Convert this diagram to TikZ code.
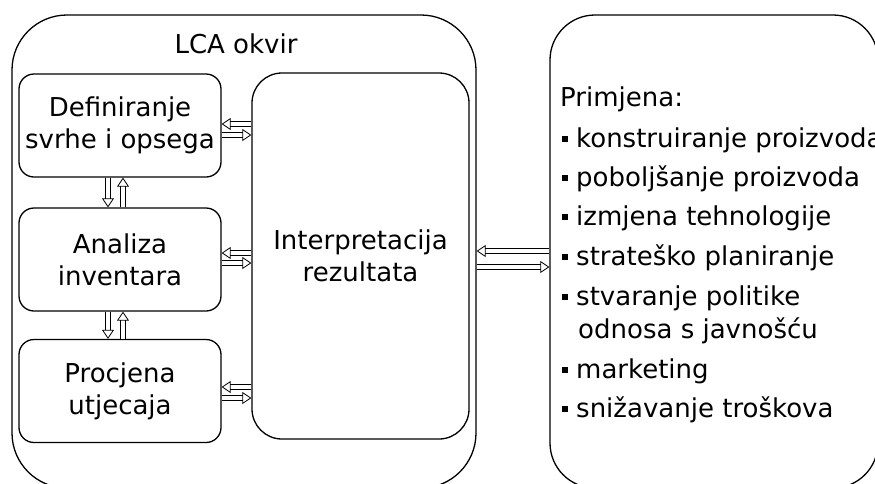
\documentclass[tikz,border=0pt]{standalone}
\usepackage{fontspec}
\setmainfont{DejaVu Sans}
\usetikzlibrary{arrows.meta}
\newcommand{\bul}{\rule[5pt]{6pt}{6pt}\hspace{8pt}}
\begin{document}
\begin{tikzpicture}[x=1pt,y=-1pt,
  txt/.style={font=\fontsize{26}{32}\selectfont},
  frame/.style={draw, line width=1.3pt, inner sep=0pt},
  stepbox/.style={frame, rounded corners=15pt, minimum width=202pt, minimum height=103pt, txt, align=center},
  dar/.style={double, double distance=3.5pt, line width=0.8pt,
    -{Triangle[open, length=9pt, width=12pt, line width=0.8pt]}},
  item/.style={txt, anchor=base west, inner sep=0pt}]
\useasboundingbox (0,0) rectangle (875,483);
% outer frames
\node[frame, rounded corners=55pt, minimum width=464pt, minimum height=473pt] (lca) at (244,251.5) {};
\node[frame, rounded corners=45pt, minimum width=328pt, minimum height=473pt] (app) at (714,251.5) {};
\node[txt, anchor=base, inner sep=0pt] (lcat) at (236,53) {LCA okvir};
% inner boxes
\node[stepbox] (def) at (120,125.5) {Definiranje\\svrhe i opsega};
\node[stepbox] (ana) at (120,259.5) {Analiza\\inventara};
\node[stepbox] (pro) at (120,391) {Procjena\\utjecaja};
\node[frame, rounded corners=30pt, minimum width=217pt, minimum height=366pt, txt, align=center] (int) at (360.5,256) {Interpretacija\\rezultata};
% vertical arrows
\draw[dar] ([xshift=-12pt]def.south) -- ([xshift=-12pt]ana.north);
\draw[dar] ([xshift=3pt]ana.north) -- ([xshift=3pt]def.south);
\draw[dar] ([xshift=-12pt]ana.south) -- ([xshift=-12pt]pro.north);
\draw[dar] ([xshift=3pt]pro.north) -- ([xshift=3pt]ana.south);
% horizontal arrows
\draw[dar] ([yshift=1.5pt]int.west |- def.east) -- ([yshift=1.5pt]def.east);
\draw[dar] ([yshift=-9.5pt]def.east) -- ([yshift=-9.5pt]int.west |- def.east);
\draw[dar] ([yshift=6.5pt]int.west |- ana.east) -- ([yshift=6.5pt]ana.east);
\draw[dar] ([yshift=-3.5pt]ana.east) -- ([yshift=-3.5pt]int.west |- ana.east);
\draw[dar] ([yshift=4pt]int.west |- pro.east) -- ([yshift=4pt]pro.east);
\draw[dar] ([yshift=-7pt]pro.east) -- ([yshift=-7pt]int.west |- pro.east);
\draw[dar] ([yshift=0.5pt]app.west) -- ([yshift=0.5pt]lca.east);
\draw[dar] ([yshift=-15.5pt]lca.east) -- ([yshift=-15.5pt]app.west);
% application list
\node[item] (p0) at (560,106) {Primjena:};
\node[item] (p1) at (562,147) {\bul konstruiranje proizvoda};
\node[item] (p2) at (562,186) {\bul poboljšanje proizvoda};
\node[item] (p3) at (562,225) {\bul izmjena tehnologije};
\node[item] (p4) at (562,265) {\bul strateško planiranje};
\node[item] (p5) at (562,305) {\bul stvaranje politike};
\node[item] (p6) at (578,338) {odnosa s javnošću};
\node[item] (p7) at (562,378) {\bul marketing};
\node[item] (p8) at (562,417) {\bul snižavanje troškova};
\end{tikzpicture}
\end{document}
